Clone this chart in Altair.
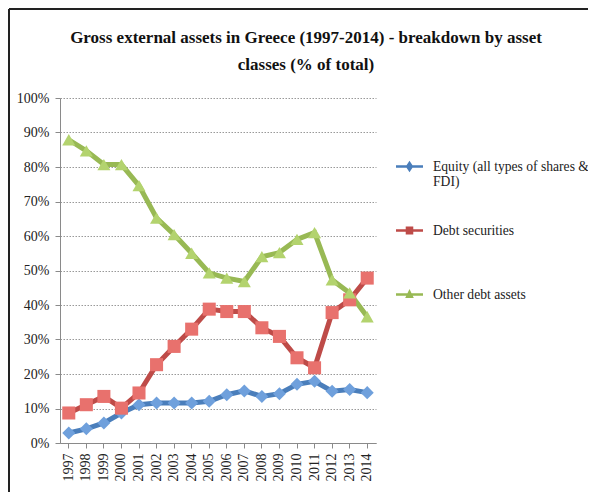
import altair as alt
import pandas as pd

years = [str(y) for y in range(1997, 2015)]
equity = [2.9, 4.1, 5.8, 8.7, 11.1, 11.6, 11.6, 11.6, 12.1, 14.0, 15.1, 13.5, 14.3, 17.0, 17.9, 15.0, 15.5, 14.6]
debt_sec = [8.7, 11.1, 13.5, 10.1, 14.5, 22.7, 28.0, 33.0, 38.8, 38.1, 38.1, 33.4, 30.9, 24.7, 21.8, 37.8, 41.5, 47.8]
other_debt = [87.9, 84.7, 80.7, 80.7, 74.6, 65.2, 60.4, 55.0, 49.3, 47.8, 46.8, 54.0, 55.2, 59.0, 61.0, 47.3, 43.5, 36.6]

series_names = ["Equity (all types of shares & FDI)", "Debt securities", "Other debt assets"]
line_colors = ["#4A7EBB", "#BE4B48", "#98B954"]
fill_colors = ["#6FA0DC", "#E8716D", "#B3D36E"]
shapes = ["diamond", "square", "triangle-up"]
legend_shapes = [
    "M-1,-0.09H1V0.09H-1Z M0,-0.42L0.28,0L0,0.42L-0.28,0Z",
    "M-1,-0.09H1V0.09H-1Z M-0.28,-0.3H0.28V0.3H-0.28Z",
    "M-1,-0.09H1V0.09H-1Z M0,-0.4L0.32,0.26H-0.32Z",
]

rows = []
for name, vals in zip(series_names, [equity, debt_sec, other_debt]):
    for y, v in zip(years, vals):
        rows.append({"year": y, "series": name, "value": v})
df = pd.DataFrame(rows)

serif = "Liberation Serif"

x_enc = alt.X("year:O", title=None,
              scale=alt.Scale(type="band", paddingInner=0, paddingOuter=0),
              axis=alt.Axis(labelAngle=-90, labelFont=serif, labelFontSize=14,
                            labelColor="#222222", domainColor="#8a8a8a",
                            tickColor="#8a8a8a", tickSize=5, bandPosition=0.5,
                            labelPadding=5, grid=False))
y_enc = alt.Y("value:Q", title=None,
              scale=alt.Scale(domain=[0, 100], nice=False),
              axis=alt.Axis(values=list(range(0, 101, 10)), labelExpr="datum.value + '%'",
                            labelFont=serif, labelFontSize=14, labelColor="#222222",
                            domainColor="#8a8a8a", tickColor="#8a8a8a", tickSize=5,
                            labelPadding=6, gridColor="#999999", gridDash=[1.5, 1.5],
                            gridWidth=1))

color_scale = alt.Scale(domain=series_names, range=line_colors)
fill_scale = alt.Scale(domain=series_names, range=fill_colors)
shape_scale = alt.Scale(domain=series_names, range=shapes)
legend_shape_scale = alt.Scale(domain=series_names, range=legend_shapes)

legend = alt.Legend(title=None, orient="none", legendX=336, legendY=55,
                    labelFont=serif, labelFontSize=13.6, labelColor="#222222",
                    symbolSize=729, symbolStrokeWidth=0, symbolOpacity=1,
                    rowPadding=28, gridAlign="all",
                    labelOffset=10, labelLimit=300,
                    labelExpr="datum.label == 'Equity (all types of shares & FDI)' ? ['Equity (all types of shares &', 'FDI)'] : datum.label")

base = alt.Chart(df)

lines = base.mark_line(strokeWidth=5).encode(
    x=x_enc,
    y=y_enc,
    color=alt.Color("series:N", scale=color_scale, legend=None),
    order=alt.Order("year:O"),
)

points = base.mark_point(filled=True, size=170, strokeWidth=1.5, opacity=1).encode(
    x=x_enc,
    y=y_enc,
    color=alt.Color("series:N", scale=color_scale, legend=None),
    fill=alt.Fill("series:N", scale=fill_scale, legend=None),
    shape=alt.Shape("series:N", scale=shape_scale, legend=None),
)

legend_layer = base.mark_point(filled=True, opacity=0, size=729).encode(
    x=x_enc,
    y=y_enc,
    color=alt.Color("series:N", scale=color_scale, legend=legend),
    shape=alt.Shape("series:N", scale=legend_shape_scale, legend=legend),
)

frame_top = alt.Chart(df).mark_rule(color="#222222", strokeWidth=2).encode(
    x=alt.value(-51), x2=alt.value(600), y=alt.value(-89))
frame_left = alt.Chart(df).mark_rule(color="#222222", strokeWidth=2).encode(
    x=alt.value(-51), y=alt.value(-89), y2=alt.value(600))

chart = alt.layer(lines, points, legend_layer, frame_top, frame_left).resolve_scale(
    shape="independent", color="independent"
).resolve_legend(
    shape="independent", color="independent"
).properties(
    width=316, height=345,
    padding={"left": 52, "top": 90, "right": 212, "bottom": 49},
    autosize=alt.AutoSizeParams(type="none"),
    title=alt.TitleParams(
        text=["Gross external assets in Greece (1997-2014) - breakdown by asset",
              "classes (% of total)"],
        font=serif, fontSize=17, fontWeight="bold", color="#111111",
        anchor="middle", dx=88, offset=-66, lineHeight=27, frame="group",
    ),
).configure_view(stroke=None)

chart.save("out.html", embed_options={"renderer": "svg", "actions": False})
